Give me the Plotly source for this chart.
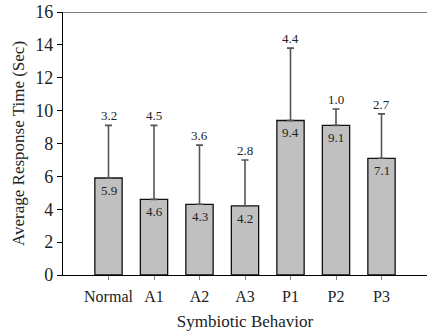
import plotly.graph_objects as go

categories = ["Normal", "A1", "A2", "A3", "P1", "P2", "P3"]
means = [5.9, 4.6, 4.3, 4.2, 9.4, 9.1, 7.1]
errors = [3.2, 4.5, 3.6, 2.8, 4.4, 1.0, 2.7]
y_ticks = [0, 2, 4, 6, 8, 10, 12, 14, 16]

FONT = "Liberation Serif, Times New Roman, serif"
xs = list(range(len(categories)))

fig = go.Figure()
fig.add_trace(go.Bar(
    x=xs, y=means, width=0.6,
    marker=dict(color="#c0c0c0", line=dict(color="#111", width=1.3)),
    error_y=dict(type="data", array=errors, arrayminus=[0] * len(errors), symmetric=False,
                 color="#555555", thickness=1.6, width=3.5),
    hoverinfo="skip",
))
for x, m, e in zip(xs, means, errors):
    fig.add_annotation(x=x, y=m, text=f"{m:.1f}", showarrow=False, yanchor="top",
                       yshift=-3, font=dict(family=FONT, size=13, color="#222"))
    fig.add_annotation(x=x, y=m + e, text=f"{e:.1f}", showarrow=False, yanchor="bottom",
                       yshift=0, font=dict(family=FONT, size=13, color="#222"))
fig.add_shape(type="line", xref="paper", yref="y", x0=0, x1=1, y0=16, y1=16,
              line=dict(color="#808080", width=2))

fig.update_layout(
    width=427, height=335, margin=dict(l=63, r=0, t=12, b=60),
    paper_bgcolor="white", plot_bgcolor="white", showlegend=False,
    font=dict(family=FONT, size=17, color="#222"),
    xaxis=dict(range=[-1, 7], tickvals=xs, ticktext=categories, showline=True,
               linecolor="black", linewidth=1.3, ticks="outside", ticklen=4,
               tickcolor="#808080", showgrid=False, zeroline=False,
               ticklabelstandoff=3,
               title=dict(text="Symbiotic Behavior", standoff=10, font=dict(size=17)),
               tickfont=dict(size=16)),
    yaxis=dict(range=[0, 16], tickvals=y_ticks, showline=True, linecolor="black",
               linewidth=1.3, ticks="outside", ticklen=5, tickcolor="black",
               showgrid=False, zeroline=False,
               title=dict(text="Average Response Time (Sec)", standoff=6, font=dict(size=17)),
               tickfont=dict(size=18)),
)
fig.write_html("out.html")
